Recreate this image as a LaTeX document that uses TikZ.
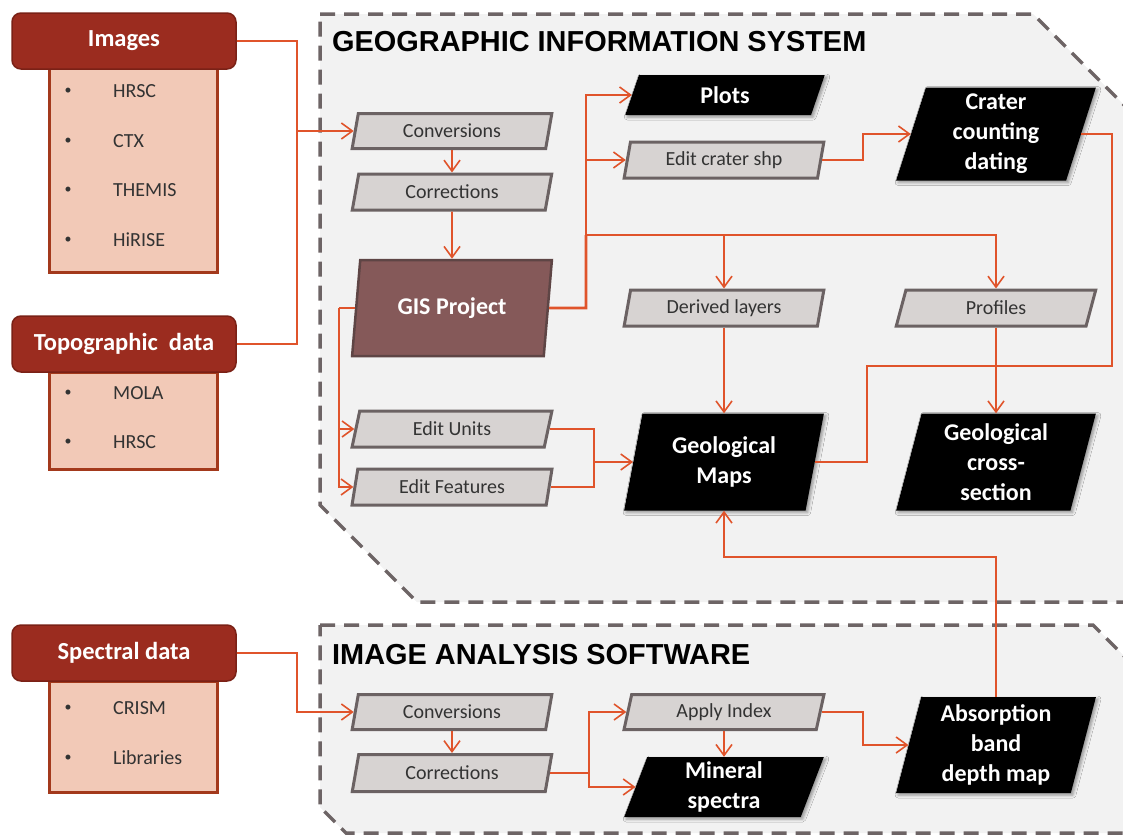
\documentclass[tikz,border=0pt]{standalone}
\usepackage{fontspec}
\setmainfont{Carlito}
\newfontfamily\titlefont{Liberation Sans}
\usetikzlibrary{shapes.geometric,arrows.meta,shadows.blur}

\definecolor{hdr}{HTML}{9B2C1F}
\definecolor{hdrb}{HTML}{7A2116}
\definecolor{lst}{HTML}{F2C9B7}
\definecolor{lstb}{HTML}{A3391C}
\definecolor{gbox}{HTML}{D7D3D2}
\definecolor{gboxb}{HTML}{6B6263}
\definecolor{proj}{HTML}{855959}
\definecolor{projb}{HTML}{5E4545}
\definecolor{org}{HTML}{E0542B}
\definecolor{reg}{HTML}{F2F2F2}
\definecolor{regb}{HTML}{6D6465}
\definecolor{txt}{HTML}{333333}

\begin{document}
\begin{tikzpicture}[x=1pt,y=-1pt,
 regionbox/.style={fill=reg, draw=regb, line width=3.5pt, dash pattern=on 15pt off 9pt},
 para/.style={trapezium, trapezium left angle=77, trapezium right angle=103, trapezium stretches=true, inner sep=0pt, align=center},
 graybox/.style={para, fill=gbox, draw=gboxb, line width=3pt, text=txt, font=\fontsize{20}{23}\selectfont, minimum width=200pt, minimum height=35pt},
 blackbox/.style={para, fill=black, text=white, font=\fontsize{24}{30}\selectfont\bfseries, minimum width=200pt, blur shadow={shadow xshift=2pt, shadow yshift=-2pt, shadow blur radius=3pt, shadow opacity=40}},
 projbox/.style={para, fill=proj, draw=projb, line width=2.5pt, text=white, font=\fontsize{24}{28}\selectfont\bfseries, minimum width=200pt, minimum height=96pt},
 hdrbox/.style={rectangle, rounded corners=9pt, fill=hdr, draw=hdrb, line width=1.5pt, text=white, font=\fontsize{24.5}{28}\selectfont\bfseries, minimum width=224pt, minimum height=56pt, inner sep=0pt},
 listbox/.style={rectangle, fill=lst, draw=lstb, line width=3pt, minimum width=168pt, inner sep=0pt},
 listitem/.style={font=\fontsize{20}{22}\selectfont, text=txt, anchor=west, inner sep=0pt},
 bulletmark/.style={font=\fontsize{14}{16}\selectfont, text=txt, inner sep=0pt},
 conn/.style={draw=org, line width=1.6pt, -{Straight Barb[length=11pt,width=16pt]}},
 wire/.style={draw=org, line width=1.6pt},
 ttl/.style={font=\titlefont\fontsize{28.9}{32}\selectfont\bfseries, anchor=base west, inner sep=0pt, text=black}
]
\useasboundingbox (0,0) rectangle (1123,835);
\clip (0,0) rectangle (1123,835);

% regions
\path[regionbox] (320,14) -- (1033,14) -- (1133,114) -- (1133,602) -- (417,602) -- (320,505) -- cycle;
\path[regionbox] (320,625) -- (1093,625) -- (1133,665) -- (1133,833) -- (346,833) -- (320,807) -- cycle;
\node[ttl] (gistitle) at (332,51) {GEOGRAPHIC INFORMATION SYSTEM};
\node[ttl] (iastitle) at (332,664) {IMAGE ANALYSIS SOFTWARE};

% left data boxes
\node[listbox, minimum height=204pt] (imglist) at (133,170) {};
\node[hdrbox] (images) at (124,41) {Images};
\node[bulletmark] (b1) at (68,91) {•};  \node[listitem] (i1) at (113,91) {HRSC};
\node[bulletmark] (b2) at (68,141) {•}; \node[listitem] (i2) at (113,141) {CTX};
\node[bulletmark] (b3) at (68,190) {•}; \node[listitem] (i3) at (113,190) {THEMIS};
\node[bulletmark] (b4) at (68,240) {•}; \node[listitem] (i4) at (113,240) {HiRISE};

\node[listbox, minimum height=97pt] (topolist) at (133,421) {};
\node[hdrbox] (topo) at (124,344) {Topographic\ \ data};
\node[bulletmark] (b5) at (68,393) {•}; \node[listitem] (i5) at (113,393) {MOLA};
\node[bulletmark] (b6) at (68,442) {•}; \node[listitem] (i6) at (113,442) {HRSC};

\node[listbox, minimum height=111pt] (speclist) at (133,737) {};
\node[hdrbox] (spectral) at (124,653) {Spectral data};
\node[bulletmark] (b7) at (68,708) {•}; \node[listitem] (i7) at (113,708) {CRISM};
\node[bulletmark] (b8) at (68,758) {•}; \node[listitem] (i8) at (113,758) {Libraries};

% GIS nodes
\node[graybox] (conv1) at (452,131) {Conversions};
\node[graybox, minimum height=36pt] (corr1) at (452,192) {Corrections};
\node[projbox] (proj) at (452,308) {GIS Project};
\node[blackbox, minimum height=40pt] (plots) at (725,95) {Plots};
\node[graybox, minimum height=36pt] (crater) at (724,160) {Edit crater shp};
\node[blackbox, minimum height=93pt] (count) at (996,134) {Crater\\counting\\dating};
\node[graybox, minimum height=36pt] (derived) at (724,308) {Derived layers};
\node[graybox, minimum height=36pt] (profiles) at (996,308) {Profiles};
\node[graybox, minimum height=36pt] (units) at (452,429) {Edit Units};
\node[graybox, minimum height=36pt] (features) at (452,487) {Edit Features};
\node[blackbox, minimum height=97pt] (maps) at (724,462) {Geological\\Maps};
\node[blackbox, minimum height=97pt] (xsec) at (996,462) {Geological\\cross-\\section};

% IAS nodes
\node[graybox] (conv2) at (452,712) {Conversions};
\node[graybox, minimum height=37pt] (corr2) at (452,773) {Corrections};
\node[graybox] (apply) at (724,712) {Apply Index};
\node[blackbox, minimum height=60pt] (mineral) at (724,787) {Mineral\\spectra};
\node[blackbox, minimum height=96pt] (absorb) at (996,745) {Absorption\\band\\depth map};

% junctions
\coordinate (jL) at (297,131);
\coordinate (jP) at (586,308);
\coordinate (jT) at (586,235);
\coordinate (jG) at (339,308);
\coordinate (jM) at (594,462);
\coordinate (xC) at (863,147);
\coordinate (k1) at (1112,366);
\coordinate (k2) at (867,366);
\coordinate (k3) at (996,557);
\coordinate (jS) at (297,712);
\coordinate (jI) at (589,773);
\coordinate (jA) at (863,730);

% GIS connectors
\draw[conn] (images.east) -| (jL) -- (conv1.west);
\draw[wire] (topo.east) -| (jL);
\draw[conn] (conv1.south) -- (corr1.north);
\draw[conn] (corr1.south) -- (proj.north);
\draw[wire, line width=2.8pt] (proj.east) -- (jP) -- (jT);
\draw[conn] (jT) |- (plots.west);
\draw[conn] (jT) |- (crater.west);
\draw[conn] (jT) -| (profiles.center |- profiles.north);
\draw[conn] (derived.center |- jT) -- (derived.center |- derived.north);
\draw[wire] (proj.west) -- (jG);
\draw[conn] (jG) |- (units.west);
\draw[conn] (jG) |- (features.west);
\draw[wire] (units.east) -| (jM);
\draw[wire] (features.east) -| (jM);
\draw[conn] (jM) -- (maps.west);
\draw[conn] (derived.center |- derived.south) -- (maps.center |- maps.north);
\draw[conn] (profiles.center |- profiles.south) -- (xsec.center |- xsec.north);
\draw[conn] (crater.east) -| (xC) |- (count.west);
\draw[wire] (count.east) -| (k1) -- (k2) |- (maps.east);
\draw[conn] (absorb.center |- absorb.north) -- (k3) -| (maps.center |- maps.south);

% IAS connectors
\draw[conn] (spectral.east) -| (jS) -- (conv2.west);
\draw[conn] (conv2.south) -- (corr2.north);
\draw[wire] (corr2.east) -- (jI);
\draw[conn] (jI) |- (apply.west);
\draw[conn] (jI) |- (mineral.west);
\draw[conn] (apply.center |- apply.south) -- (mineral.center |- mineral.north);
\draw[conn] (apply.east) -| (jA) |- (absorb.west);
\end{tikzpicture}
\end{document}
